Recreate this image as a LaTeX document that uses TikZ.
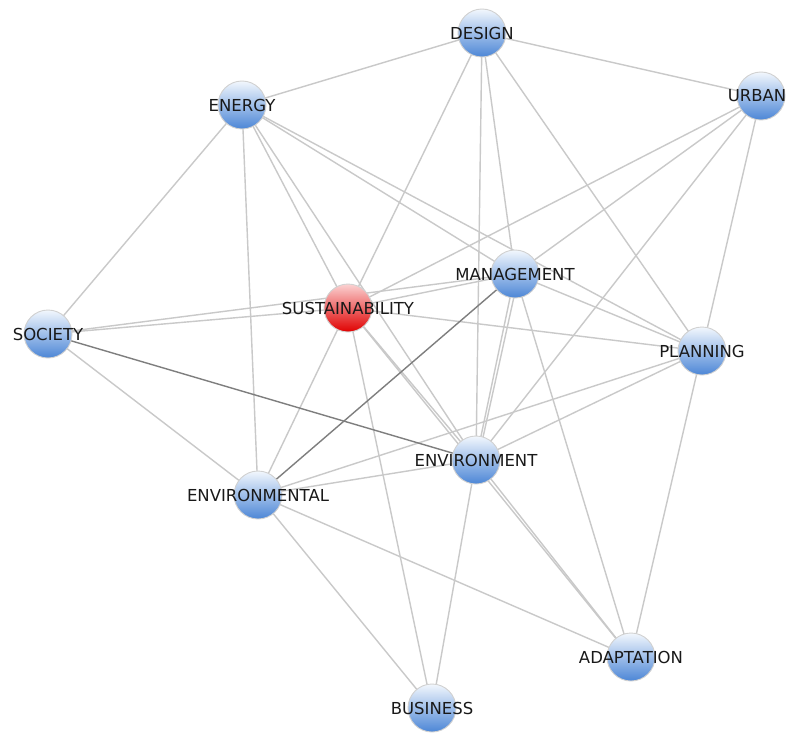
\documentclass[tikz,border=0pt]{standalone}
\usepackage{fontspec}
\setmainfont{DejaVu Sans}
\usetikzlibrary{backgrounds}
\definecolor{edgegray}{HTML}{C9C9C9}
\definecolor{edgedark}{HTML}{7E7E7E}
\definecolor{balltop}{HTML}{F2F7FD}
\definecolor{ballmid}{HTML}{9CC0EC}
\definecolor{ballbot}{HTML}{4C86D6}
\definecolor{hubtop}{HTML}{FBD2D2}
\definecolor{hubmid}{HTML}{F24545}
\definecolor{hubbot}{HTML}{E00000}
\begin{document}
\begin{tikzpicture}[x=1pt,y=-1pt,
    every label/.style={font=\fontsize{16.5}{18}\selectfont, text=black!90},
    term/.style={circle, minimum size=48pt, inner sep=0pt, draw=black!18, line width=0.9pt,
        top color=balltop, middle color=ballmid, bottom color=ballbot, label={center:#1}},
    hub/.style={term=#1, top color=hubtop, middle color=hubmid, bottom color=hubbot},
    link/.style={draw=edgegray, line width=1.4pt},
    strong/.style={draw=edgedark, line width=1.4pt}]
    \useasboundingbox (0,0) rectangle (787,733);
    \clip (0,0) rectangle (787,733);
    \node[term=DESIGN] (design) at (482,33) {};
    \node[term=ENERGY] (energy) at (242,105) {};
    \node[term={}, label={[xshift=-4pt]center:URBAN}] (urban) at (761,96) {};
    \node[term=SOCIETY] (society) at (48,334) {};
    \node[hub=SUSTAINABILITY] (sust) at (348,308) {};
    \node[term=MANAGEMENT] (manag) at (515,274) {};
    \node[term=PLANNING] (plan) at (702,351) {};
    \node[term=ENVIRONMENT] (envt) at (476,460) {};
    \node[term=ENVIRONMENTAL] (envl) at (258,495) {};
    \node[term=ADAPTATION] (adapt) at (631,657) {};
    \node[term=BUSINESS] (busi) at (432,708) {};
    \begin{scope}[on background layer]
        \fill[white] (0,0) rectangle (787,733);
        \foreach \a/\b in {design/energy, design/urban, design/sust, design/manag, design/envt, design/plan,
            energy/society, energy/sust, energy/manag, energy/plan, energy/envt, energy/envl,
            urban/sust, urban/manag, urban/envt, urban/plan,
            society/sust, society/manag, society/envl,
            sust/manag, sust/plan, sust/envt, sust/envl, sust/busi, sust/adapt,
            manag/plan, manag/envt, manag/adapt,
            plan/envt, plan/envl, plan/adapt,
            envt/envl, envt/busi, envt/adapt,
            envl/busi, envl/adapt}
            \draw[link] (\a.center) -- (\b.center);
        \draw[link] ([xshift=4pt]manag.center) -- ([xshift=2pt]envt.center);
        \draw[strong] (society.center) -- (envt.center);
        \draw[strong] (manag.center) -- (envl.center);
    \end{scope}
\end{tikzpicture}
\end{document}
